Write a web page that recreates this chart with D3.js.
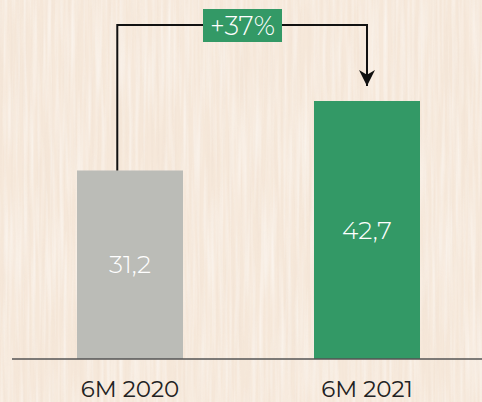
<!DOCTYPE html>
<html>
<head>
<meta charset="utf-8">
<script src="https://cdn.jsdelivr.net/npm/d3@7"></script>
<style>
  html, body { margin: 0; padding: 0; background: #f4e5d6; }
  svg { display: block; }
</style>
</head>
<body>
<div id="chart"></div>
<script>
//Data
var categories = ["6M 2020", "6M 2021"];
var values = [31.2, 42.7];
var valueLabels = ["31,2", "42,7"];
var changeLabel = "+37%";

//Sizes
var width = 482;
var height = 402;
var baseY = 359;

//Colors
var colorBars = ["#bbbcb7", "#339966"];
var colorText = "#222222";
var colorLine = "#111111";

var svg = d3.select("#chart").append("svg")
    .attr("width", width)
    .attr("height", height);

//Wood-ish background
var defs = svg.append("defs");
var grain = defs.append("filter").attr("id", "grain")
    .attr("x", 0).attr("y", 0).attr("width", "100%").attr("height", "100%");
grain.append("feTurbulence")
    .attr("type", "fractalNoise")
    .attr("baseFrequency", "0.35 0.008")
    .attr("numOctaves", 3)
    .attr("seed", 4)
    .attr("result", "noise");
grain.append("feColorMatrix")
    .attr("in", "noise")
    .attr("type", "matrix")
    .attr("values", "0 0 0 0 0.82  0 0 0 0 0.70  0 0 0 0 0.60  0 0 0 -1.1 0.7");

var light = defs.append("filter").attr("id", "light")
    .attr("x", 0).attr("y", 0).attr("width", "100%").attr("height", "100%");
light.append("feTurbulence")
    .attr("type", "fractalNoise")
    .attr("baseFrequency", "0.25 0.01")
    .attr("numOctaves", 2)
    .attr("seed", 11)
    .attr("result", "noise");
light.append("feColorMatrix")
    .attr("in", "noise")
    .attr("type", "matrix")
    .attr("values", "0 0 0 0 1  0 0 0 0 1  0 0 0 0 1  0 0 0 1.6 -0.6");

svg.append("rect")
    .attr("width", width).attr("height", height)
    .attr("fill", "#f6e8da");
svg.append("rect")
    .attr("width", width).attr("height", height)
    .attr("filter", "url(#grain)")
    .attr("opacity", 0.45);
svg.append("rect")
    .attr("width", width).attr("height", height)
    .attr("filter", "url(#light)")
    .attr("opacity", 0.6);

//Scales
var x = d3.scaleBand()
    .domain(categories)
    .range([17.75, 479.25])
    .paddingInner(0.5527)
    .paddingOuter(0.25);

var y = d3.scaleLinear()
    .domain([0, 42.7])
    .range([baseY, 101]);

//Bars
var bars = svg.selectAll(".bar")
    .data(values)
    .enter().append("g")
    .attr("class", "bar");

bars.append("rect")
    .attr("x", function(d, i) { return x(categories[i]); })
    .attr("y", function(d) { return y(d); })
    .attr("width", x.bandwidth())
    .attr("height", function(d) { return baseY - y(d); })
    .attr("fill", function(d, i) { return colorBars[i]; });

bars.append("text")
    .text(function(d, i) { return valueLabels[i]; })
    .attr("x", function(d, i) { return x(categories[i]) + x.bandwidth() / 2; })
    .attr("y", function(d) { return (y(d) + baseY) / 2; })
    .attr("dy", "0.35em")
    .attr("text-anchor", "middle")
    .attr("fill", "#ffffff")
    .attr("font-family", "Montserrat, 'Open Sans', sans-serif")
    .attr("font-weight", 300)
    .attr("font-size", 25);

//Baseline
svg.append("line")
    .attr("x1", 12).attr("x2", 482)
    .attr("y1", baseY).attr("y2", baseY)
    .attr("stroke", "#555555")
    .attr("stroke-width", 1.5);

//Category labels
svg.selectAll(".cat")
    .data(categories)
    .enter().append("text")
    .attr("class", "cat")
    .text(function(d) { return d; })
    .attr("x", function(d) { return x(d) + x.bandwidth() / 2; })
    .attr("y", 397)
    .attr("text-anchor", "middle")
    .attr("fill", colorText)
    .attr("font-family", "Montserrat, 'Open Sans', sans-serif")
    .attr("font-size", 23);

//Change arrow
var xFrom = x(categories[0]) + x.bandwidth() * 0.38;
var xTo = x(categories[1]) + x.bandwidth() / 2;
var topY = 25;

defs.append("marker")
    .attr("id", "head")
    .attr("viewBox", "0 0 10 10")
    .attr("refX", 10).attr("refY", 5)
    .attr("markerUnits", "userSpaceOnUse")
    .attr("markerWidth", 16).attr("markerHeight", 16)
    .attr("orient", "auto")
    .append("path")
    .attr("d", "M0,0 L10,5 L0,10 L3,5 Z")
    .attr("fill", colorLine);

svg.append("path")
    .attr("d", d3.line()([[xFrom, y(values[0])], [xFrom, topY], [xTo, topY], [xTo, 86]]))
    .attr("fill", "none")
    .attr("stroke", colorLine)
    .attr("stroke-width", 2)
    .attr("marker-end", "url(#head)");

//Change label
svg.append("rect")
    .attr("x", 203).attr("y", 9)
    .attr("width", 79).attr("height", 33)
    .attr("fill", colorBars[1]);

svg.append("text")
    .text(changeLabel)
    .attr("x", 242.5).attr("y", 26)
    .attr("dy", "0.35em")
    .attr("text-anchor", "middle")
    .attr("fill", "#ffffff")
    .attr("font-family", "Montserrat, 'Open Sans', sans-serif")
    .attr("font-weight", 300)
    .attr("font-size", 26);
</script>
</body>
</html>
